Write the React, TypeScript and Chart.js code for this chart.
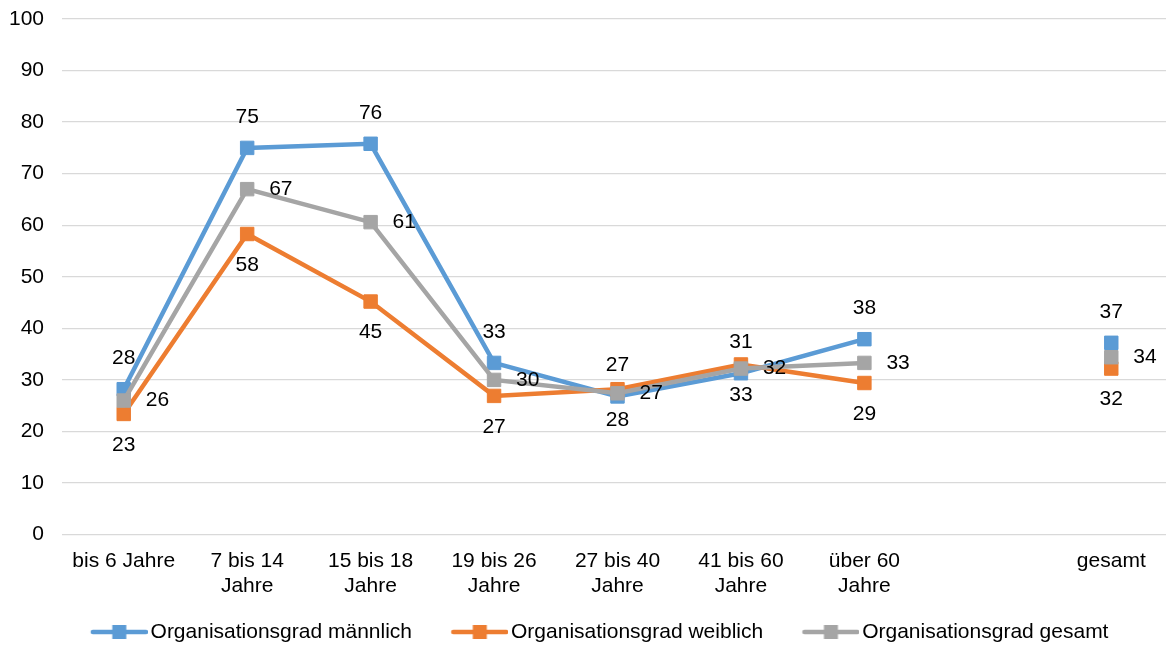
import React, { useEffect, useRef } from "react";
import { Chart, registerables } from "chart.js";

Chart.register(...registerables);

const categories: (string | string[])[] = [
  "bis 6 Jahre",
  ["7 bis 14", "Jahre"],
  ["15 bis 18", "Jahre"],
  ["19 bis 26", "Jahre"],
  ["27 bis 40", "Jahre"],
  ["41 bis 60", "Jahre"],
  ["über 60", "Jahre"],
  "",
  "gesamt",
];

const maennlich: (number | null)[] = [28.2, 75.0, 75.8, 33.3, 26.8, 31.3, 37.9, null, 37.2];
const weiblich: (number | null)[] = [23.4, 58.3, 45.2, 26.9, 28.2, 33.0, 29.4, null, 32.2];
const gesamt: (number | null)[] = [26.0, 67.0, 60.6, 30.0, 27.4, 32.2, 33.3, null, 34.4];

const seriesNames = [
  "Organisationsgrad männlich",
  "Organisationsgrad weiblich",
  "Organisationsgrad gesamt",
];
const seriesColors = ["#5B9BD5", "#ED7D31", "#A5A5A5"];

const yTicks = [0, 10, 20, 30, 40, 50, 60, 70, 80, 90, 100];

const FONT = '"Liberation Sans", Arial, sans-serif';

function makeLegendImage(color: string): HTMLCanvasElement {
  const c = document.createElement("canvas");
  c.width = 64;
  c.height = 16;
  const ctx = c.getContext("2d")!;
  ctx.strokeStyle = color;
  ctx.lineWidth = 4.5;
  ctx.lineCap = "round";
  ctx.beginPath();
  ctx.moveTo(9, 8);
  ctx.lineTo(62, 8);
  ctx.stroke();
  ctx.fillStyle = color;
  ctx.fillRect(35.5 - 7, 1, 14, 14);
  return c;
}

const dataLabelPlugin = {
  id: "dataLabels",
  afterDatasetsDraw(chart: any) {
    const ctx = chart.ctx;
    ctx.save();
    ctx.font = `21px ${FONT}`;
    ctx.fillStyle = "#000000";
    ctx.textBaseline = "middle";
    chart.data.datasets.forEach((ds: any, di: number) => {
      const meta = chart.getDatasetMeta(di);
      meta.data.forEach((pt: any, i: number) => {
        const v = ds.data[i];
        if (v === null || v === undefined) return;
        const txt = String(Math.round(v));
        if (di === 0) {
          ctx.textAlign = "center";
          ctx.fillText(txt, pt.x, pt.y - 31);
        } else if (di === 1) {
          ctx.textAlign = "center";
          ctx.fillText(txt, pt.x, pt.y + 31);
        } else {
          ctx.textAlign = "left";
          ctx.fillText(txt, pt.x + 22, pt.y);
        }
      });
    });
    ctx.restore();
  },
};

// place the legend box (centre 600, text row at 632) like the reference
const legendPlacePlugin = {
  id: "legendPlace",
  afterLayout(chart: any) {
    const lg = chart.legend;
    if (!lg) return;
    const pad = lg.options.labels.padding;
    const fs = lg.options.labels.font.size;
    const dy = 632 - (lg.top + pad + fs / 2);
    const dx = 600 - (lg.left + lg.right) / 2;
    lg.top += dy;
    lg.bottom += dy;
    lg.left += dx;
    lg.right += dx;
  },
};

export default function App() {
  const ref = useRef<HTMLCanvasElement | null>(null);

  useEffect(() => {
    document.body.style.margin = "0";
    const canvas = ref.current!;
    const images = seriesColors.map(makeLegendImage);
    const allSeries = [maennlich, weiblich, gesamt];
    const chart = new Chart(canvas, {
      type: "line",
      data: {
        labels: categories,
        datasets: allSeries.map((d, i) => ({
          label: seriesNames[i],
          data: d,
          borderColor: seriesColors[i],
          backgroundColor: seriesColors[i],
          borderWidth: 4.5,
          pointStyle: "rect",
          pointRadius: 9.5,
          pointHoverRadius: 9.5,
          pointBorderWidth: 1,
          pointBackgroundColor: seriesColors[i],
          pointBorderColor: seriesColors[i],
          spanGaps: false,
          tension: 0,
          order: 2 - i,
        })),
      },
      options: {
        responsive: false,
        animation: false,
        layout: { padding: { left: 9, right: 27, top: 19, bottom: 0 } },
        plugins: {
          tooltip: { enabled: false },
          legend: {
            position: "bottom",
            labels: {
              usePointStyle: true,
              pointStyleWidth: 48.5,
              padding: 40,
              color: "#000000",
              font: { family: FONT, size: 21 },
              sort: (a: any, b: any) => a.datasetIndex - b.datasetIndex,
              generateLabels: (ch: any) => {
                const items = Chart.defaults.plugins.legend.labels.generateLabels(ch);
                return items.map((it: any, idx: number) => ({
                  ...it,
                  pointStyle: images[it.datasetIndex ?? idx],
                }));
              },
            },
          },
        },
        scales: {
          x: {
            offset: true,
            grid: { display: false, drawTicks: false, offset: true },
            border: { display: false },
            ticks: {
              autoSkip: false,
              maxRotation: 0,
              minRotation: 0,
              padding: 14,
              color: "#000000",
              font: { family: FONT, size: 21 },
            },
          },
          y: {
            min: 0,
            max: 100,
            grid: { color: "#D9D9D9", lineWidth: 1.3, drawTicks: false },
            border: { display: false },
            afterBuildTicks: (scale: any) => {
              scale.ticks = yTicks.map((v) => ({ value: v }));
            },
            ticks: {
              padding: 18,
              color: "#000000",
              font: { family: FONT, size: 21 },
            },
            afterFit: (scale: any) => {
              scale.width = 53;
              scale.paddingTop = 0;
              scale.paddingBottom = 0;
            },
          },
        },
      },
      plugins: [dataLabelPlugin, legendPlacePlugin],
    });
    return () => chart.destroy();
  }, []);

  return (
    <div style={{ width: 1166, height: 646, overflow: "hidden", position: "relative" }}>
      <canvas ref={ref} width={1200} height={684} style={{ display: "block" }} />
    </div>
  );
}
